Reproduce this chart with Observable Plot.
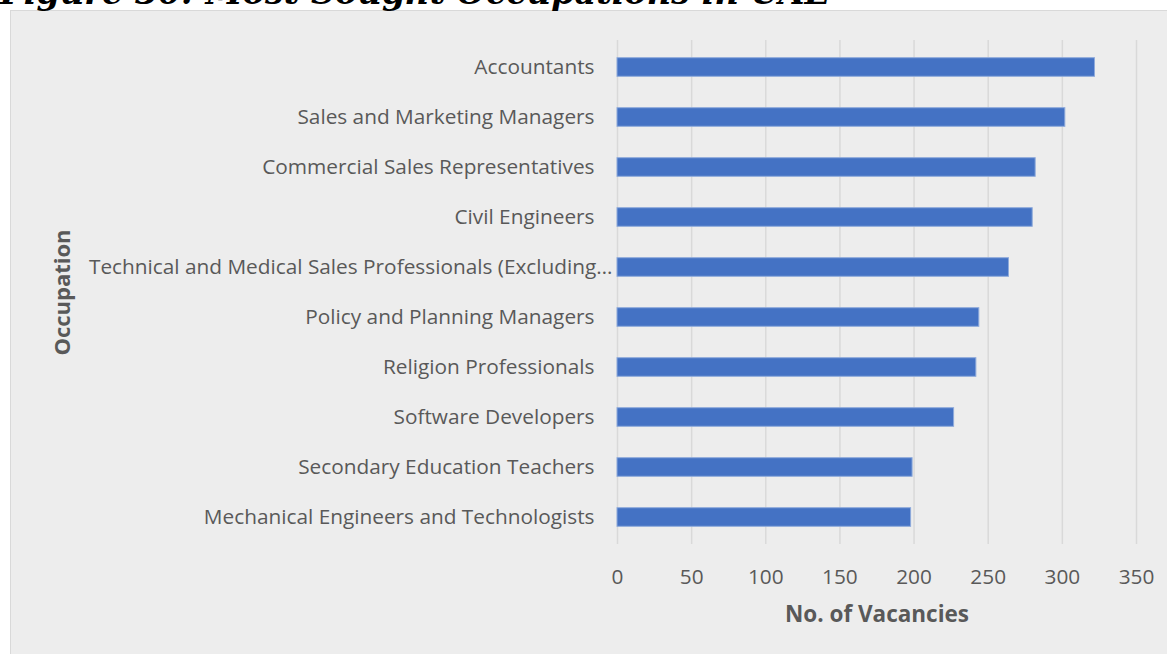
<!DOCTYPE html>
<html>
<head>
<meta charset="utf-8">
<script src="https://cdn.jsdelivr.net/npm/d3@7"></script>
<script src="https://cdn.jsdelivr.net/npm/@observablehq/plot@0.6"></script>
<style>
  html, body { margin: 0; padding: 0; background: #ffffff; width: 1167px; height: 654px; overflow: hidden; }
  #wrap { position: relative; width: 1167px; height: 654px; }
  #title { position: absolute; left: 0; top: -27px; font-family: "DejaVu Serif", serif; font-weight: bold; font-style: italic; font-size: 33.5px; color: #000; white-space: nowrap; margin: 0; line-height: 40px; }
  #frame { position: absolute; left: 10px; top: 10px; width: 1160px; height: 650px; background: #ededed; border: 1px solid #d9d9d9; box-sizing: border-box; }
  #chart { position: absolute; left: 0; top: 0; }
  #chart svg { background: transparent; }
</style>
</head>
<body>
<div id="wrap">
  <div id="frame"></div>
  <h1 id="title">Figure 30: Most Sought Occupations in UAE</h1>
  <div id="chart"></div>
</div>
<script>
const occupations = [
  "Accountants",
  "Sales and Marketing Managers",
  "Commercial Sales Representatives",
  "Civil Engineers",
  "Technical and Medical Sales Professionals (Excluding ICT)",
  "Policy and Planning Managers",
  "Religion Professionals",
  "Software Developers",
  "Secondary Education Teachers",
  "Mechanical Engineers and Technologists"
];
const vacancies = [322, 302, 282, 280, 264, 244, 242, 227, 199, 198];
const xTicks = [0, 50, 100, 150, 200, 250, 300, 350];
const xLabel = "No. of Vacancies";
const yLabel = "Occupation";

const data = occupations.map((o, i) => ({occupation: o, value: vacancies[i]}));
const maxLen = 52;
const truncate = s => s.length > maxLen ? s.slice(0, maxLen) + "\u2026" : s;
const longLabels = occupations.filter(s => s.length > maxLen);
const shortLabels = occupations.filter(s => s.length <= maxLen);

const font = "'Open Sans', sans-serif";
const chart = Plot.plot({
  width: 1167,
  height: 654,
  marginLeft: 617,
  marginRight: 31,
  marginTop: 40,
  marginBottom: 110,
  style: {fontFamily: font, fontSize: "20.8px", color: "#595959", background: "transparent", overflow: "visible"},
  x: {domain: [0, 350], ticks: xTicks},
  y: {domain: occupations, padding: 0},
  marks: [
    Plot.gridX(xTicks, {stroke: "#d9d9d9", strokeOpacity: 1, strokeWidth: 1.5}),
    Plot.barX(data, {x: "value", y: "occupation", fill: "#4472c4", stroke: "#8eaadb", strokeWidth: 1, insetTop: 15.7, insetBottom: 15.7}),
    Plot.axisX({ticks: xTicks, tickSize: 0, tickPadding: 25, label: null, fill: "#595959", fontSize: 20.8}),
    Plot.axisY({ticks: shortLabels, tickSize: 0, tickPadding: 23, label: null, fill: "#595959", fontSize: 20.8}),
    Plot.axisY({ticks: longLabels, tickSize: 0, tickPadding: 5, label: null, tickFormat: truncate, fill: "#595959", fontSize: 20.8}),
    Plot.text([xLabel], {frameAnchor: "bottom", dy: 70, lineAnchor: "middle", fontWeight: "bold", fontSize: 22.5, fill: "#595959"}),
    Plot.text([yLabel], {frameAnchor: "left", dx: -555, rotate: -90, textAnchor: "middle", lineAnchor: "middle", fontWeight: "bold", fontSize: 22, fill: "#595959"})
  ]
});
document.getElementById("chart").appendChild(chart);
</script>
</body>
</html>
